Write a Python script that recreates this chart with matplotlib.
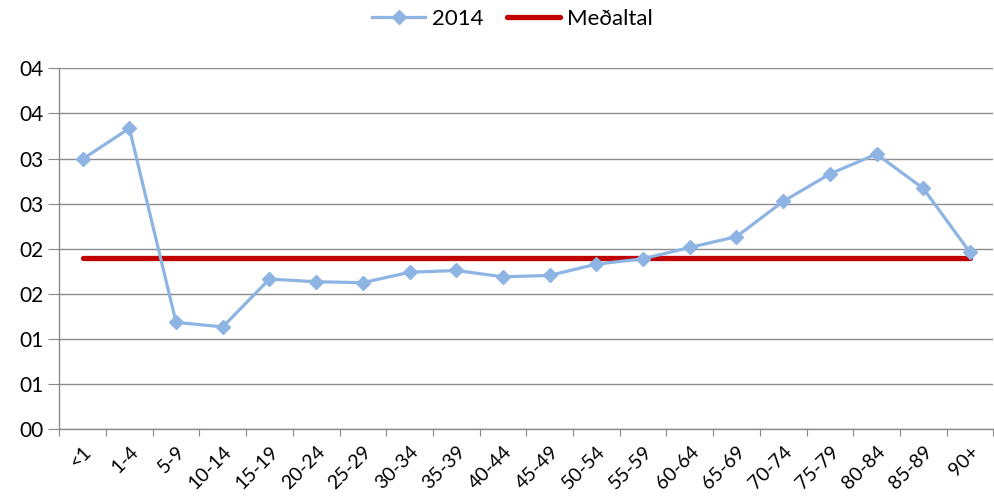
import matplotlib
matplotlib.use("Agg")
import matplotlib.pyplot as plt

plt.rcParams['font.family'] = ['Lato', 'DejaVu Sans']

categories = ['<1', '1-4', '5-9', '10-14', '15-19', '20-24', '25-29', '30-34', '35-39',
              '40-44', '45-49', '50-54', '55-59', '60-64', '65-69', '70-74', '75-79',
              '80-84', '85-89', '90+']
values_2014 = [5.99, 6.67, 2.37, 2.27, 3.33, 3.27, 3.25, 3.48, 3.52, 3.38, 3.41, 3.66,
               3.78, 4.03, 4.27, 5.05, 5.66, 6.10, 5.34, 3.92]
average = 3.79
ytick_values = [0, 1, 2, 3, 4, 5, 6, 7, 8]
ytick_labels = ['00', '01', '01', '02', '02', '03', '03', '04', '04']

fig = plt.figure(figsize=(9.95, 4.99), dpi=100)
ax = fig.add_axes([0.0596, 0.1397, 0.9387, 0.7233])

x = list(range(len(categories)))
ax.plot(x, values_2014, color='#8DB4E2', lw=2.3, marker='D', markersize=7.5,
        label='2014', zorder=3)
ax.plot(x, [average] * len(x), color='#C00000', lw=3.8, solid_capstyle='round',
        label='Meðaltal', zorder=2)

ax.set_xlim(-0.5, len(categories) - 0.5)
ax.set_ylim(0, 8)
ax.set_yticks(ytick_values)
ax.set_yticklabels(ytick_labels, fontsize=15)
ax.set_xticks([i - 0.5 for i in range(len(categories) + 1)], minor=False)
ax.set_xticklabels([''] * (len(categories) + 1))
ax.set_xticks(x, minor=True)
ax.set_xticklabels(categories, minor=True, rotation=45, ha='right', va='top',
                   rotation_mode='anchor', fontsize=14)
ax.tick_params(axis='x', which='minor', length=0, pad=10)
ax.tick_params(axis='x', which='major', length=5, color='#888888')
ax.tick_params(axis='y', length=8, color='#888888', pad=3)

ax.grid(axis='y', color='#8c8c8c', lw=1)
ax.set_axisbelow(True)
for s in ['top', 'right']:
    ax.spines[s].set_visible(False)
for s in ['left', 'bottom']:
    ax.spines[s].set_color('#8c8c8c')
    ax.spines[s].set_linewidth(1)

fig.legend(loc='upper center', bbox_to_anchor=(0.515, 1.022), ncol=2, frameon=False,
           fontsize=16, handlelength=2.4, columnspacing=1.05, handletextpad=0.3)

fig.savefig('out.png', dpi=100)
